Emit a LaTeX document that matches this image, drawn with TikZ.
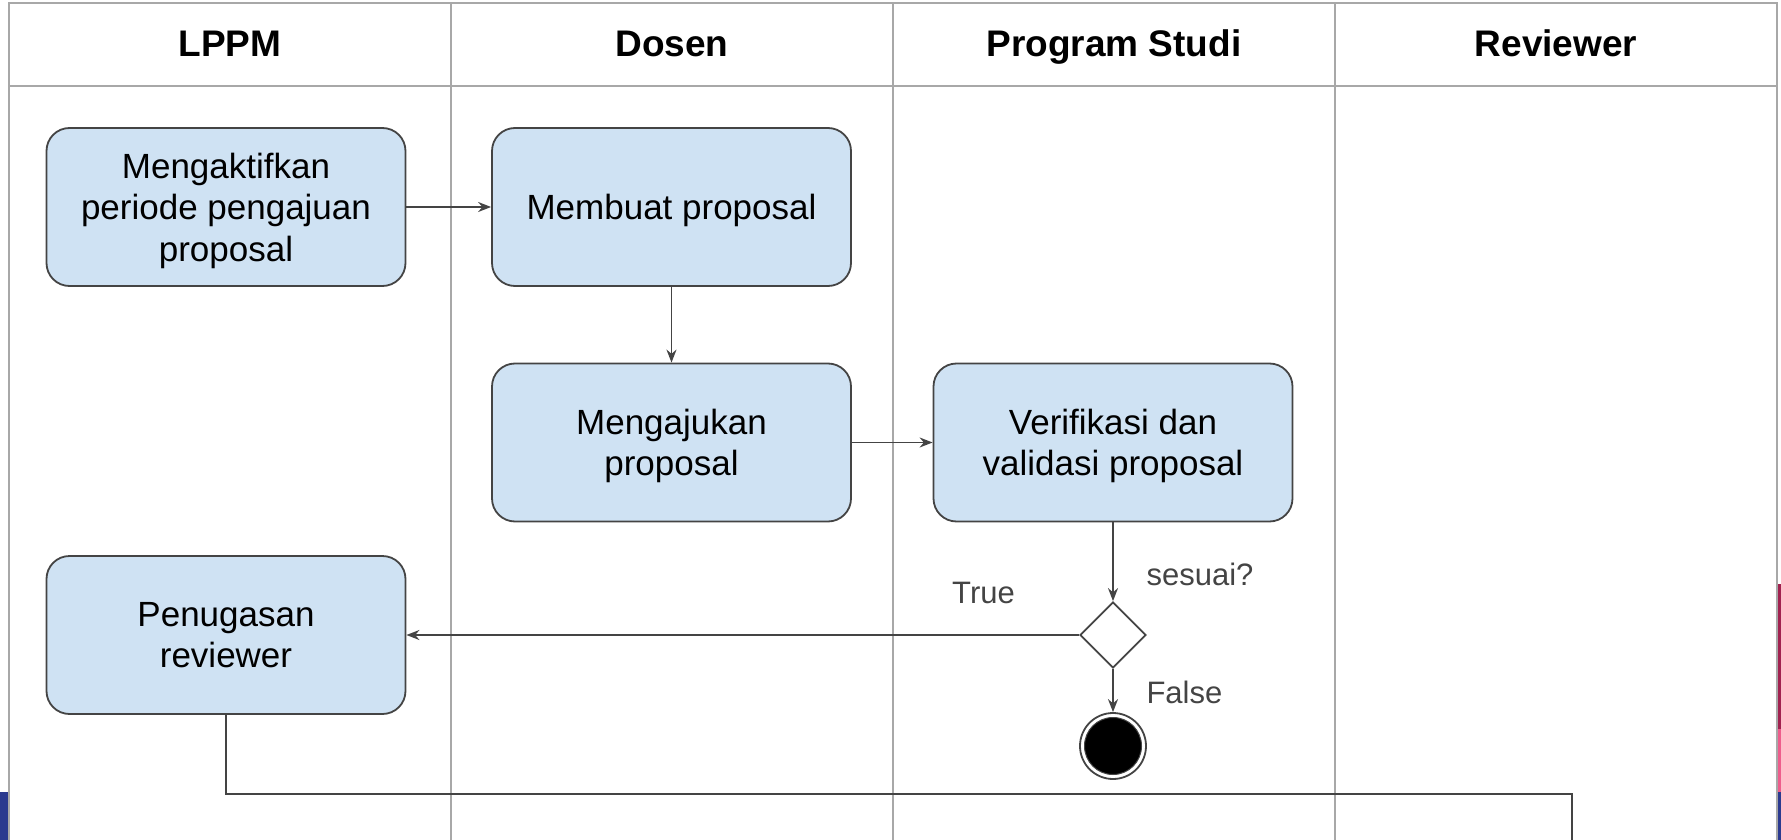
\documentclass[tikz,border=0pt]{standalone}
\usepackage{fontspec}
\setmainfont{Liberation Sans}
\usetikzlibrary{shapes.geometric, arrows, arrows.meta}
\definecolor{boxfill}{HTML}{CFE2F3}
\definecolor{linegray}{HTML}{444444}
\definecolor{gridgray}{HTML}{A8A8A8}
\definecolor{stripeblue}{HTML}{2B3A8F}
\definecolor{stripered}{HTML}{A1214F}
\definecolor{stripepink}{HTML}{EE5D8C}
\tikzstyle{activity} = [rectangle, rounded corners=23pt, minimum width=359pt, minimum height=158pt, align=center, text depth=0pt, draw=linegray, line width=1.8pt, fill=boxfill, font=\fontsize{35}{41.5}\selectfont]
\tikzstyle{decision} = [diamond, draw=linegray, line width=1.8pt, minimum width=66pt, minimum height=66pt, inner sep=0pt, fill=white]
\tikzstyle{arrow} = [line width=1.8pt, draw=linegray, -{Stealth[length=13pt,width=10pt]}]
\tikzstyle{lane} = [anchor=base, font=\bfseries\fontsize{37}{42}\selectfont]
\tikzstyle{guard} = [text=linegray, font=\fontsize{31}{36}\selectfont]

\begin{document}
\begin{tikzpicture}[x=1pt, y=-1pt]
	\useasboundingbox (0,0) rectangle (1781,840);
	% swimlanes
	\draw[gridgray, line width=2pt] (9,840) -- (9,3) -- (1777,3) -- (1777,840);
	\draw[gridgray, line width=2pt] (9,86) -- (1777,86);
	\draw[gridgray, line width=2pt] (451,3) -- (451,840);
	\draw[gridgray, line width=2pt] (893,3) -- (893,840);
	\draw[gridgray, line width=2pt] (1335,3) -- (1335,840);
	\node[lane] (lppm) at (230,57) {LPPM};
	\node[lane] (dosen) at (672,57) {Dosen};
	\node[lane] (prodi) at (1114,57) {Program Studi};
	\node[lane] (reviewer) at (1556,57) {Reviewer};

	% edge stripes
	\fill[stripeblue] (0,792) rectangle (8,840);
	\fill[stripered] (1778,584) rectangle (1781,729);
	\fill[stripepink] (1778,729) rectangle (1781,792);
	\fill[stripeblue] (1778,792) rectangle (1781,840);

	% activities
	\node[activity] (aktif) at (226,207) {Mengaktifkan\\periode pengajuan\\proposal};
	\node[activity] (buat) at (671.5,207) {Membuat proposal};
	\node[activity] (ajukan) at (671.5,442.5) {Mengajukan\\proposal};
	\node[activity] (verif) at (1113,442.5) {Verifikasi dan\\validasi proposal};
	\node[activity] (tugas) at (226,635) {Penugasan\\reviewer};
	\node[decision] (sesuai) at (1113,635) {};
	\node[circle, draw=linegray, line width=1.8pt, fill=white, minimum size=66pt, inner sep=0pt] (final) at (1113,746) {};
	\fill[black, draw=linegray, line width=1pt] (final.center) circle (28.5pt);
	\coordinate (keluar) at (1572,840);

	% guards
	\node[guard, anchor=west] (lblsesuai) at (1143,574) {sesuai?};
	\node[guard] (lbltrue) at (983.5,593) {True};
	\node[guard, anchor=west] (lblfalse) at (1143,692) {False};

	% flows
	\draw[arrow] (aktif) -- (buat);
	\draw[arrow] (buat) -- (ajukan);
	\draw[arrow] (ajukan) -- (verif);
	\draw[arrow] (verif) -- (sesuai);
	\draw[arrow] (sesuai) -- (tugas);
	\draw[arrow] (sesuai) -- (final);
	\draw[line width=1.8pt, linegray] (tugas.south) -- (226,794) -- (1572,794) -- (keluar);
\end{tikzpicture}
\end{document}
